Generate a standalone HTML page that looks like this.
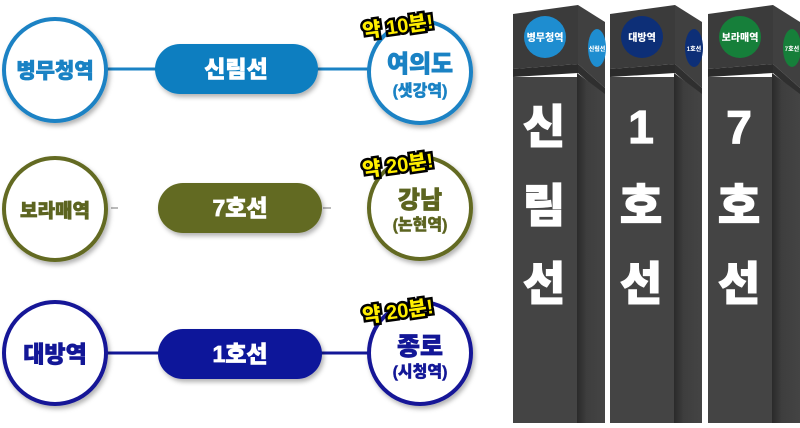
<!DOCTYPE html>
<html><head><meta charset="utf-8"><style>
body{margin:0;background:#fff;}
svg text{font-family:"Liberation Sans","Noto Sans CJK KR",sans-serif;font-weight:900;}
</style></head><body>
<svg width="800" height="423" viewBox="0 0 800 423" xmlns="http://www.w3.org/2000/svg">
<defs>
<filter id="sh" x="-20%" y="-20%" width="140%" height="150%"><feDropShadow dx="2" dy="3" stdDeviation="2.5" flood-color="#000" flood-opacity="0.3"/></filter>
<linearGradient id="side" x1="0" x2="1" y1="0" y2="0"><stop offset="0" stop-color="#2a2a2a"/><stop offset="0.35" stop-color="#3e3e3e"/><stop offset="1" stop-color="#444"/></linearGradient>
<g id="pillar">
<polygon points="513,14 578,5 578,64 513,69" fill="#3b3b3b"/>
<polygon points="578,5 605,22 605,88 578,64" fill="#404040"/>
<polygon points="513,69 578,64 578,73 513,77" fill="#2b2b2b"/>
<polygon points="578,64 605,88 605,96 578,73" fill="#2f2f2f"/>
<rect x="513" y="77" width="64" height="346" fill="#444"/>
<polygon points="577,73 605,94 605,423 577,423" fill="url(#side)"/>
</g>
</defs>

<!-- Row 1 -->
<line x1="105" y1="69" x2="370" y2="69" stroke="#1a82c4" stroke-width="3"/>
<circle cx="55" cy="70" r="51" fill="#fff" stroke="#1a82c4" stroke-width="4" filter="url(#sh)"/>
<text x="55" y="78" font-size="21" fill="#1a82c4" stroke="#1a82c4" stroke-width="0.7" text-anchor="middle">병무청역</text>
<rect x="155" y="44" width="163" height="50" rx="25" fill="#0f7ec0" filter="url(#sh)"/>
<text x="236" y="77" font-size="23" fill="#fff" stroke="#fff" stroke-width="0.7" text-anchor="middle">신림선</text>
<circle cx="420" cy="72" r="51" fill="#fff" stroke="#1a82c4" stroke-width="4" filter="url(#sh)"/>
<text x="420" y="72" font-size="24" fill="#1a82c4" stroke="#1a82c4" stroke-width="0.7" text-anchor="middle">여의도</text>
<text x="420" y="96" font-size="16" fill="#1a82c4" stroke="#1a82c4" stroke-width="0.4" text-anchor="middle">(샛강역)</text>
<text x="398" y="33" font-size="20" fill="#ffee00" stroke="#000" stroke-width="5" paint-order="stroke" text-anchor="middle" transform="rotate(-8 398 27)">약 10분!</text>

<!-- Row 2 -->
<line x1="111" y1="208" x2="118" y2="208" stroke="#bbb" stroke-width="2"/>
<line x1="323" y1="208" x2="331" y2="208" stroke="#bbb" stroke-width="2"/>
<circle cx="55" cy="209" r="51" fill="#fff" stroke="#636b21" stroke-width="4" filter="url(#sh)"/>
<text x="55" y="217" font-size="19" fill="#5c6420" stroke="#5c6420" stroke-width="0.7" text-anchor="middle">보라매역</text>
<rect x="158" y="183" width="164" height="50" rx="25" fill="#626a22" filter="url(#sh)"/>
<text x="240" y="216" font-size="23" fill="#fff" stroke="#fff" stroke-width="0.7" text-anchor="middle">7호선</text>
<circle cx="420" cy="208" r="51" fill="#fff" stroke="#636b21" stroke-width="4" filter="url(#sh)"/>
<text x="420" y="208" font-size="24" fill="#5c6420" stroke="#5c6420" stroke-width="0.7" text-anchor="middle">강남</text>
<text x="420" y="230" font-size="16" fill="#5c6420" stroke="#5c6420" stroke-width="0.4" text-anchor="middle">(논현역)</text>
<text x="398" y="172" font-size="20" fill="#ffee00" stroke="#000" stroke-width="5" paint-order="stroke" text-anchor="middle" transform="rotate(-8 398 166)">약 20분!</text>

<!-- Row 3 -->
<line x1="105" y1="353" x2="370" y2="353" stroke="#131797" stroke-width="3"/>
<circle cx="55" cy="353" r="51" fill="#fff" stroke="#131797" stroke-width="4" filter="url(#sh)"/>
<text x="55" y="362" font-size="23" fill="#131797" stroke="#131797" stroke-width="0.7" text-anchor="middle">대방역</text>
<rect x="158" y="329" width="164" height="50" rx="25" fill="#11169a" filter="url(#sh)"/>
<text x="240" y="362" font-size="23" fill="#fff" stroke="#fff" stroke-width="0.7" text-anchor="middle">1호선</text>
<circle cx="420" cy="353" r="51" fill="#fff" stroke="#131797" stroke-width="4" filter="url(#sh)"/>
<text x="420" y="355" font-size="25" fill="#131797" stroke="#131797" stroke-width="0.7" text-anchor="middle">종로</text>
<text x="420" y="377" font-size="16" fill="#131797" stroke="#131797" stroke-width="0.4" text-anchor="middle">(시청역)</text>
<text x="398" y="318" font-size="20" fill="#ffee00" stroke="#000" stroke-width="5" paint-order="stroke" text-anchor="middle" transform="rotate(-8 398 312)">약 20분!</text>

<!-- Pillars -->
<use href="#pillar"/>
<use href="#pillar" x="97"/>
<use href="#pillar" x="195"/>

<circle cx="545" cy="37" r="21" fill="#1e8dd0"/>
<ellipse cx="597" cy="48" rx="9" ry="19" fill="#1e8dd0"/>
<text x="545" y="41" font-size="10" fill="#fff" text-anchor="middle">병무청역</text>
<text x="597" y="51" font-size="6" fill="#fff" text-anchor="middle">신림선</text>

<circle cx="642" cy="37" r="21" fill="#0d2f77"/>
<ellipse cx="694" cy="48" rx="9" ry="19" fill="#0d2f77"/>
<text x="642" y="41" font-size="10" fill="#fff" text-anchor="middle">대방역</text>
<text x="694" y="51" font-size="6" fill="#fff" text-anchor="middle">1호선</text>

<circle cx="740" cy="37" r="21" fill="#167f3a"/>
<ellipse cx="792" cy="48" rx="9" ry="19" fill="#167f3a"/>
<text x="740" y="41" font-size="10" fill="#fff" text-anchor="middle">보라매역</text>
<text x="792" y="51" font-size="6" fill="#fff" text-anchor="middle">7호선</text>

<g font-size="46" fill="#fff" stroke="#fff" stroke-width="1.2" text-anchor="middle">
<text x="544" y="143">신</text>
<text x="544" y="222">림</text>
<text x="544" y="300">선</text>
<text x="641" y="143">1</text>
<text x="641" y="222">호</text>
<text x="641" y="300">선</text>
<text x="739" y="143">7</text>
<text x="739" y="222">호</text>
<text x="739" y="300">선</text>
</g>
</svg>
</body></html>
